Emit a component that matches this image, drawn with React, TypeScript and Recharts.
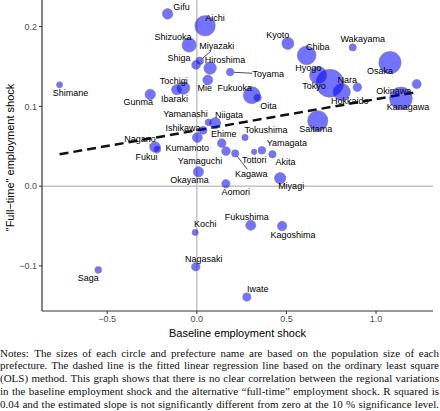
// Prefecture scatter: baseline vs "full-time" employment shock, bubble = population.
import { ReferenceLine, Scatter, ScatterChart, XAxis, YAxis, ZAxis } from 'recharts';

const prefectures = [
  'Hokkaido', 'Aomori', 'Iwate', 'Miyagi', 'Akita', 'Yamagata', 'Fukushima', 'Ibaraki',
  'Tochigi', 'Gunma', 'Saitama', 'Chiba', 'Tokyo', 'Kanagawa', 'Niigata', 'Toyama',
  'Ishikawa', 'Fukui', 'Yamanashi', 'Nagano', 'Gifu', 'Shizuoka', 'Aichi', 'Mie',
  'Shiga', 'Kyoto', 'Osaka', 'Hyogo', 'Nara', 'Wakayama', 'Tottori', 'Shimane',
  'Okayama', 'Hiroshima', 'Yamaguchi', 'Tokushima', 'Kagawa', 'Ehime', 'Kochi', 'Fukuoka',
  'Saga', 'Nagasaki', 'Kumamoto', 'Oita', 'Miyazaki', 'Kagoshima', 'Okinawa',
];

const baselineShock = [
  0.809, 0.162, 0.279, 0.465, 0.422, 0.363, 0.301, -0.075,
  -0.112, -0.26, 0.675, 0.613, 0.743, 1.139, 0.102, 0.186,
  0.035, -0.22, 0.065, -0.233, -0.163, -0.043, 0.046, 0.061,
  -0.004, 0.508, 1.078, 0.678, 0.896, 0.87, 0.32, -0.766,
  0.009, 0.074, 0.163, 0.269, 0.214, 0.139, -0.009, 0.307,
  -0.55, -0.006, 0.003, 0.338, 0.016, 0.476, 1.227,
];

const fullTimeShock = [
  0.118, 0.003, -0.139, 0.01, 0.04, 0.045, -0.049, 0.123,
  0.121, 0.115, 0.082, 0.164, 0.129, 0.11, 0.079, 0.143,
  0.07, 0.046, 0.08, 0.049, 0.216, 0.177, 0.201, 0.133,
  0.152, 0.179, 0.155, 0.139, 0.124, 0.174, 0.043, 0.127,
  0.018, 0.148, 0.044, 0.061, 0.041, 0.054, -0.058, 0.114,
  -0.105, -0.101, 0.061, 0.111, 0.157, -0.05, 0.128,
];

// millions
const population = [
  5.22, 1.24, 1.21, 2.3, 0.96, 1.07, 1.83, 2.87,
  1.93, 1.94, 7.34, 6.28, 14.05, 9.24, 2.2, 1.03,
  1.13, 0.77, 0.81, 2.05, 1.98, 3.63, 7.54, 1.77,
  1.41, 2.58, 8.84, 5.47, 1.32, 0.92, 0.55, 0.67,
  1.89, 2.8, 1.34, 0.72, 0.95, 1.33, 0.69, 5.14,
  0.81, 1.31, 1.74, 1.12, 1.07, 1.59, 1.47,
];

const xTicks = [-0.5, 0, 0.5, 1.0];
const yTicks = [-0.1, 0, 0.1, 0.2];

// ends of the fitted OLS line
const fitX = [-0.766, 1.227];
const fitY = [0.04, 0.118];

const noteLines = [
  'Notes:\u2002The sizes of each circle and prefecture name are based on the population size of each',
  'prefecture. The dashed line is the fitted linear regression line based on the ordinary least square',
  '(OLS) method. This graph shows that there is no clear correlation between the regional variations',
  'in the baseline employment shock and the alternative \u201cfull-time\u201d employment shock. R squared is',
  '0.04 and the estimated slope is not significantly different from zero at the 10 % significance level.',
];

// repel-style label offsets from the bubble centre (px); third flag = leader segment
const labelPlace: Record<string, [number, number, boolean?]> = {
  Hokkaido: [8, 9], Aomori: [10, 8], Iwate: [11, -8], Miyagi: [11, 8], Akita: [13, 8],
  Yamagata: [25, -7], Fukushima: [-4, -8], Ibaraki: [-9, 11], Tochigi: [-3, -9], Gunma: [-12, 8],
  Saitama: [-2, 8], Chiba: [11, -8], Tokyo: [-16, 3], Kanagawa: [7, 9], Niigata: [14, -8],
  Toyama: [38, 2, true], Ishikawa: [-20, -2, true], Fukui: [-11, 8], Yamanashi: [-23, -8],
  Nagano: [-15, -8, true], Gifu: [14, -7], Shizuoka: [-16, -8], Aichi: [10, -8], Mie: [-3, 8],
  Shiga: [-17, -7], Kyoto: [-10, -8], Osaka: [-10, 8], Hyogo: [-10, -7], Nara: [-10, -7],
  Wakayama: [10, -8], Tottori: [0, 8], Shimane: [11, 8], Okayama: [-9, 8], Hiroshima: [15, -8],
  Yamaguchi: [-26, 10], Tokushima: [21, -8], Kagawa: [16, 21, true], Ehime: [2, -9],
  Kochi: [10, -8], Fukuoka: [-17, -7], Saga: [-10, 8], Nagasaki: [8, -8], Kumamoto: [-10, 10],
  Oita: [11, 8], Miyazaki: [17, -15, true], Kagoshima: [11, 9], Okinawa: [-23, 7],
};

const rows = prefectures.map((name, i) => ({
  name,
  x: baselineShock[i],
  y: fullTimeShock[i],
  pop: population[i],
}));

const sans = '"Liberation Sans", Arial, sans-serif';
const axisTick = { fill: '#4d4d4d', fontSize: 9, fontFamily: sans };
const fmt = (v: number) => (v < 0 ? '\u2212' + Math.abs(v).toFixed(1) : v.toFixed(1));

const popMin = Math.min(...population);
const popMax = Math.max(...population);
const areaPerMillion = (Math.PI * 14 * 14) / popMax;

function Bubble(props: any) {
  const { cx, cy, width } = props;
  if (cx == null || cy == null) return null;
  return (
    <circle
      cx={cx}
      cy={cy}
      r={width / 2}
      fill="#0000ff"
      fillOpacity={0.55}
      stroke="#7a7a7a"
      strokeWidth={0.6}
    />
  );
}

function NameTag(props: any) {
  const { cx, cy, width, payload } = props;
  if (cx == null || cy == null) return null;
  const [dx, dy, leader] = labelPlace[payload.name] ?? [0, -10];
  const lx = cx + dx;
  const ly = cy + dy;
  let seg = null;
  if (leader) {
    const hw = payload.name.length * 2.5 + 1;
    const hh = 5;
    const t = Math.min(hw / Math.max(Math.abs(dx), 0.01), hh / Math.max(Math.abs(dy), 0.01));
    const ex = lx - t * dx;
    const ey = ly - t * dy;
    const len = Math.hypot(dx, dy);
    const r = width / 2;
    const sx = cx + (dx / len) * r;
    const sy = cy + (dy / len) * r;
    if (Math.hypot(ex - cx, ey - cy) > r + 1) {
      seg = <line x1={sx} y1={sy} x2={ex} y2={ey} stroke="#000" strokeWidth={0.7} />;
    }
  }
  return (
    <g>
      {seg}
      <text
        x={lx}
        y={ly}
        textAnchor="middle"
        dominantBaseline="central"
        fontSize={9}
        fontFamily={sans}
        fill="#000"
      >
        {payload.name}
      </text>
    </g>
  );
}

export default function App() {
  return (
    <div
      style={{
        position: 'absolute',
        left: 0,
        top: 0,
        width: 440,
        height: 411,
        background: '#fff',
        overflow: 'hidden',
      }}
    >
      <ScatterChart width={440} height={345} margin={{ top: 0, right: 7, bottom: 0, left: 0 }}>
        <XAxis
          type="number"
          dataKey="x"
          domain={[-0.864, 1.318]}
          ticks={xTicks}
          allowDataOverflow
          tickFormatter={fmt}
          tick={axisTick}
          tickSize={3}
          tickLine={{ stroke: '#333' }}
          axisLine={{ stroke: '#333', strokeWidth: 1.2 }}
          height={34}
          label={{
            value: 'Baseline employment shock',
            position: 'insideBottom',
            offset: 8,
            fill: '#000',
            fontSize: 11,
            fontFamily: sans,
          }}
        />
        <YAxis
          type="number"
          dataKey="y"
          domain={[-0.1565, 0.2334]}
          ticks={yTicks}
          allowDataOverflow
          tickFormatter={fmt}
          tick={axisTick}
          tickSize={3}
          tickLine={{ stroke: '#333' }}
          axisLine={{ stroke: '#333', strokeWidth: 1.2 }}
          width={42}
          label={({ viewBox }: any) => (
            <text
              x={10}
              y={viewBox.y + viewBox.height / 2 + 2}
              transform={`rotate(-90, 10, ${viewBox.y + viewBox.height / 2 + 2})`}
              textAnchor="middle"
              dominantBaseline="central"
              fontSize={11}
              fontFamily={sans}
              fill="#000"
            >
              {'"Full\u2212time" employment shock'}
            </text>
          )}
        />
        <ZAxis
          type="number"
          dataKey="pop"
          domain={[popMin, popMax]}
          range={[popMin * areaPerMillion, popMax * areaPerMillion]}
        />
        <ReferenceLine x={0} stroke="#c4c4c4" strokeWidth={1.5} />
        <ReferenceLine y={0} stroke="#c4c4c4" strokeWidth={1.5} />
        <Scatter data={rows} shape={Bubble} isAnimationActive={false} />
        <ReferenceLine
          segment={[
            { x: fitX[0], y: fitY[0] },
            { x: fitX[1], y: fitY[1] },
          ]}
          stroke="#111"
          strokeWidth={2.5}
          strokeDasharray="9 5"
        />
        <Scatter data={rows} shape={NameTag} isAnimationActive={false} />
      </ScatterChart>
      <div
        style={{
          position: 'absolute',
          left: 0,
          top: 346.5,
          width: 439,
          fontFamily: '"Liberation Serif", "Times New Roman", serif',
          fontSize: 11,
          lineHeight: '12.8px',
          color: '#111',
        }}
      >
        {noteLines.map((line) => (
          <div key={line} style={{ textAlign: 'justify', textAlignLast: 'justify', whiteSpace: 'nowrap' }}>
            {line}
          </div>
        ))}
      </div>
    </div>
  );
}
